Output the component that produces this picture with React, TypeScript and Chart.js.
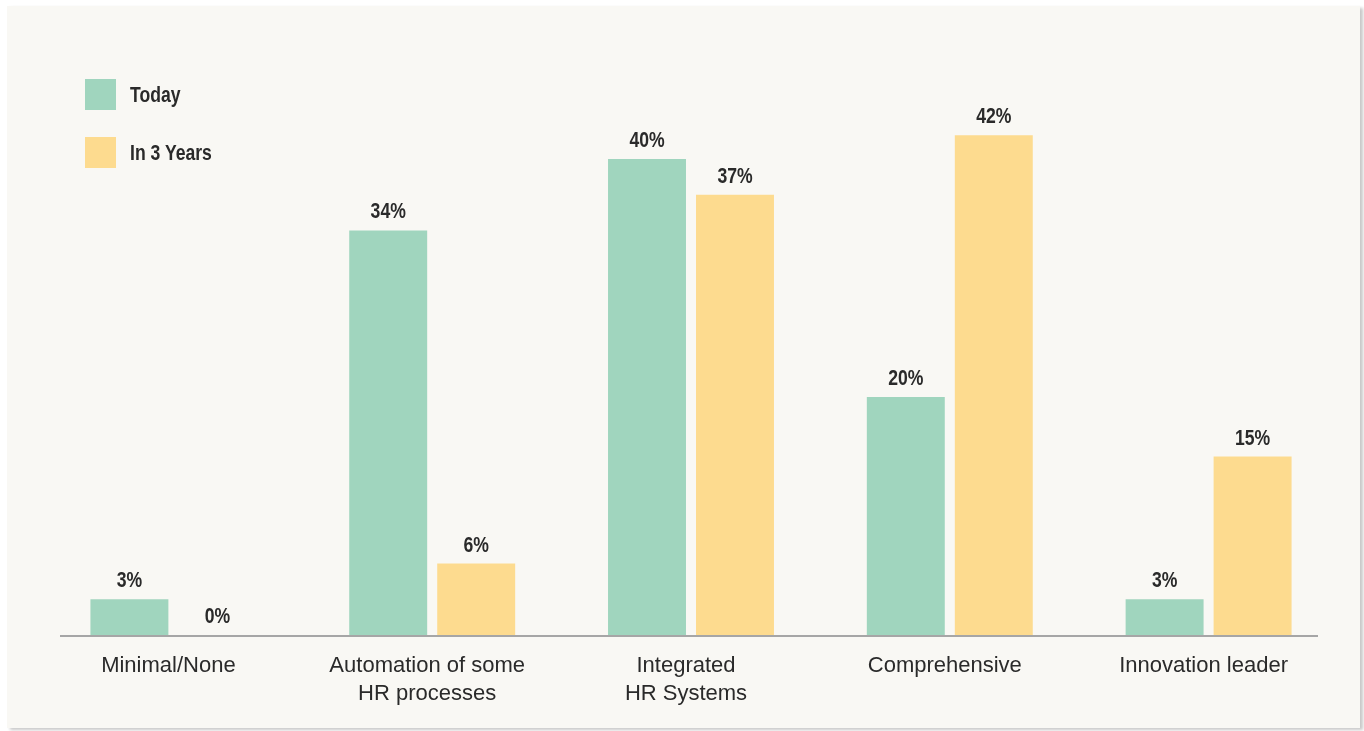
import React, { useEffect, useRef } from "react";
import { Chart, registerables } from "chart.js";

Chart.register(...registerables);

const categories: (string | string[])[] = [
  "Minimal/None",
  ["Automation of some", "HR processes"],
  ["Integrated", "HR Systems"],
  "Comprehensive",
  "Innovation leader",
];
const todayValues = [3, 34, 40, 20, 3];
const inThreeYearsValues = [0, 6, 37, 42, 15];
const seriesNames = ["Today", "In 3 Years"];
const seriesColors = ["#a0d5be", "#fddb8f"];
const yMax = 50;

const FONT_FAMILY = "'Liberation Sans', Arial, sans-serif";
const TEXT_COLOR = "#2a2a2a";
const CONDENSE = 0.8;

const valueLabelPlugin = {
  id: "valueLabels",
  afterDatasetsDraw(chart: any) {
    const ctx = chart.ctx as CanvasRenderingContext2D;
    ctx.save();
    const xs = chart.scales.x;
    const ys = chart.scales.y;
    const y0 = ys.getPixelForValue(0);
    ctx.strokeStyle = "#a6a6a6";
    ctx.lineWidth = 2;
    ctx.beginPath();
    ctx.moveTo(xs.left + 16, y0 + 1);
    ctx.lineTo(xs.right - 20, y0 + 1);
    ctx.stroke();

    ctx.font = "bold 22px " + FONT_FAMILY;
    ctx.fillStyle = TEXT_COLOR;
    ctx.textAlign = "center";
    ctx.textBaseline = "alphabetic";
    chart.data.datasets.forEach((ds: any, i: number) => {
      chart.getDatasetMeta(i).data.forEach((bar: any, j: number) => {
        ctx.save();
        ctx.translate(bar.x, bar.y - 12);
        ctx.scale(CONDENSE, 1);
        ctx.fillText(ds.data[j] + "%", 0, 0);
        ctx.restore();
      });
    });
    ctx.restore();
  },
};

export default function App() {
  const canvasRef = useRef<HTMLCanvasElement | null>(null);

  useEffect(() => {
    if (!canvasRef.current) return;
    const chart = new Chart(canvasRef.current, {
      type: "bar",
      data: {
        labels: categories,
        datasets: [
          {
            label: seriesNames[0],
            data: todayValues,
            backgroundColor: seriesColors[0],
            borderWidth: 0,
            categoryPercentage: 0.68,
            barPercentage: 0.886,
          },
          {
            label: seriesNames[1],
            data: inThreeYearsValues,
            backgroundColor: seriesColors[1],
            borderWidth: 0,
            categoryPercentage: 0.68,
            barPercentage: 0.886,
          },
        ],
      },
      options: {
        responsive: false,
        animation: false,
        devicePixelRatio: 1,
        layout: { padding: { left: 44, right: 26, top: 40, bottom: 0 } },
        plugins: {
          legend: { display: false },
          tooltip: { enabled: false },
        },
        scales: {
          x: {
            grid: { display: false, drawTicks: false },
            border: { display: false },
            ticks: {
              color: TEXT_COLOR,
              padding: 17,
              labelOffset: -5,
              font: { family: FONT_FAMILY, size: 22, lineHeight: 28 / 22 },
              maxRotation: 0,
              autoSkip: false,
            },
            afterFit: (scale: any) => {
              scale.height = 96;
            },
          },
          y: {
            display: false,
            min: 0,
            max: yMax,
          },
        },
      },
      plugins: [valueLabelPlugin],
    });
    return () => chart.destroy();
  }, []);

  return (
    <div style={{ position: "absolute", left: 0, top: 0, width: 1364, height: 731, background: "#ffffff", overflow: "hidden" }}>
      <div
        style={{
          position: "absolute",
          left: 7,
          top: 6,
          width: 1353,
          height: 722,
          background: "#f9f8f4",
          boxShadow: "3px 2px 3px rgba(0,0,0,0.22)",
        }}
      />
      <canvas ref={canvasRef} width={1364} height={731} style={{ position: "absolute", left: 0, top: 0, width: 1364, height: 731 }} />
      {seriesNames.map((name, i) => (
        <div
          key={name}
          style={{ position: "absolute", left: 85, top: 79 + i * 58, height: 31, display: "flex", alignItems: "center" }}
        >
          <div style={{ width: 31, height: 31, background: seriesColors[i] }} />
          <span
            style={{
              marginLeft: 14,
              display: "inline-block",
              font: "bold 22px " + FONT_FAMILY,
              lineHeight: "31px",
              color: TEXT_COLOR,
              whiteSpace: "nowrap",
              transform: "scaleX(" + CONDENSE + ")",
              transformOrigin: "left center",
            }}
          >
            {name}
          </span>
        </div>
      ))}
    </div>
  );
}
